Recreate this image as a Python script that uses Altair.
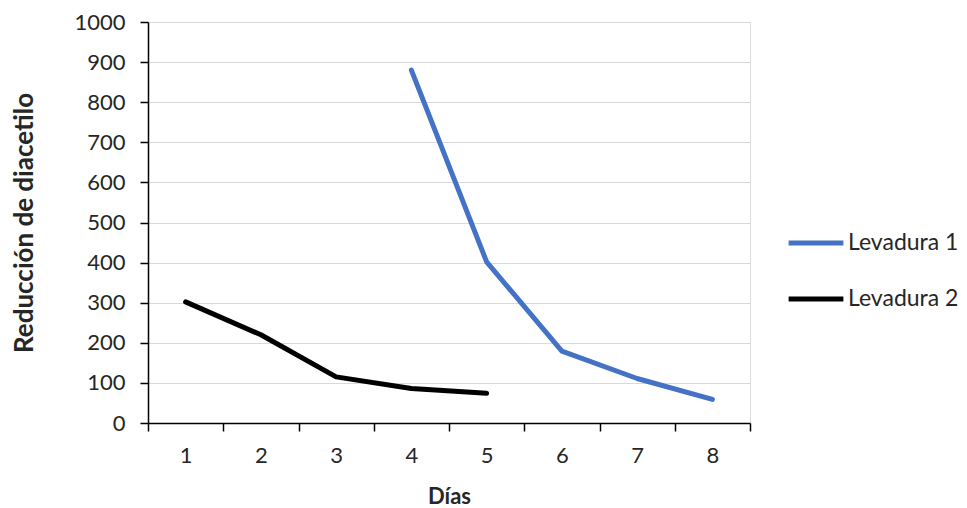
import altair as alt
import pandas as pd

dias = ["1", "2", "3", "4", "5", "6", "7", "8"]
lev1_dias = ["4", "5", "6", "7", "8"]
lev1_vals = [880, 402, 179, 111, 59]
lev2_dias = ["1", "2", "3", "4", "5"]
lev2_vals = [302, 220, 115, 86, 74]
series = ["Levadura 1", "Levadura 2"]
colors = ["#4472C4", "#000000"]

rows = []
for d, v in zip(lev1_dias, lev1_vals):
    rows.append({"dia": d, "valor": v, "serie": series[0]})
for d, v in zip(lev2_dias, lev2_vals):
    rows.append({"dia": d, "valor": v, "serie": series[1]})
df = pd.DataFrame(rows)

font = "Lato"

chart = alt.Chart(df).mark_line(strokeWidth=5, strokeCap="round", strokeJoin="round").encode(
    x=alt.X(
        "dia:O",
        sort=dias,
        scale=alt.Scale(type="band", domain=dias, paddingInner=0, paddingOuter=0),
        bandPosition=0.5,
        title="Días",
        axis=alt.Axis(
            tickBand="extent", labelAngle=0, grid=False,
            domainColor="#000000", domainWidth=1.5, tickColor="#000000", tickWidth=1.5, tickSize=8,
            labelFont=font, labelFontSize=22, labelColor="#262626", labelPadding=14,
            titleFont=font, titleFontSize=22, titleFontWeight="bold", titleColor="#262626", titlePadding=20,
        ),
    ),
    y=alt.Y(
        "valor:Q",
        scale=alt.Scale(domain=[0, 1000], nice=False),
        title="Reducción de diacetilo",
        axis=alt.Axis(
            values=list(range(0, 1001, 100)), format="d", grid=True, gridColor="#D9D9D9", gridWidth=1.2,
            domainColor="#000000", domainWidth=1.5, tickColor="#000000", tickWidth=1.5, tickSize=8,
            labelFont=font, labelFontSize=22, labelColor="#262626", labelPadding=15,
            titleFont=font, titleFontSize=26, titleFontWeight="bold", titleColor="#262626", titlePadding=36,
        ),
    ),
    color=alt.Color(
        "serie:N",
        scale=alt.Scale(domain=series, range=colors),
        legend=alt.Legend(
            title=None, orient="none", legendX=638, legendY=191,
            symbolType="stroke", symbolSize=3000, symbolStrokeWidth=5,
            labelFont=font, labelFontSize=23, labelColor="#262626", labelOffset=2,
            rowPadding=14,
        ),
    ),
).properties(
    width=602,
    height=401,
    autosize=alt.AutoSizeParams(type="none"),
    padding={"left": 148, "top": 22, "right": 217, "bottom": 85},
).configure_view(stroke=None).configure(background="#FFFFFF")

chart.save("out.html", embed_options={"renderer": "svg", "actions": False})
